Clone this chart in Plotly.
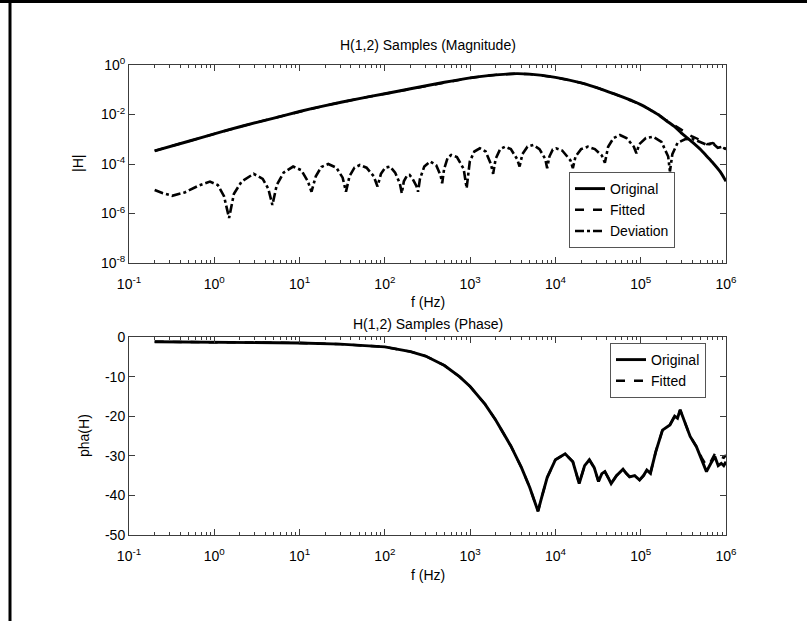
import plotly.graph_objects as go

# ---------------- data ----------------
freq_mag = [0.2, 0.5, 1, 2, 5, 10, 20, 50, 100, 200, 500, 1000, 2000, 3500, 5000,
            10000, 20000, 33000, 50000, 81000, 100000, 126000, 160000, 200000,
            250000, 300000, 400000, 510000, 600000, 700000, 850000, 1000000]
orig_mag = [3.4e-4, 8.3e-4, 1.66e-3, 3.2e-3, 7.2e-3, 1.32e-2, 2.3e-2, 4.4e-2, 6.9e-2,
            1.1e-1, 2.0e-1, 3.0e-1, 4.0e-1, 4.47e-1, 4.27e-1, 3.16e-1, 1.9e-1, 1.12e-1,
            6.6e-2, 3.5e-2, 2.5e-2, 1.62e-2, 1.0e-2, 5.6e-3, 3.2e-3, 1.78e-3, 7.9e-4,
            3.7e-4, 2.0e-4, 1.12e-4, 5.0e-5, 2.0e-5]
fit_mag = [3.4e-4, 8.3e-4, 1.66e-3, 3.2e-3, 7.2e-3, 1.32e-2, 2.3e-2, 4.4e-2, 6.9e-2,
           1.1e-1, 2.0e-1, 3.0e-1, 4.0e-1, 4.47e-1, 4.27e-1, 3.16e-1, 1.9e-1, 1.12e-1,
           6.6e-2, 3.5e-2, 2.5e-2, 1.62e-2, 1.0e-2, 5.8e-3, 3.5e-3, 2.3e-3, 1.3e-3,
           9.0e-4, 6.3e-4, 7.0e-4, 5.0e-4, 4.0e-4]

freq_dev = [0.2, 0.25, 0.32, 0.45, 0.65, 0.89, 1.1, 1.3, 1.49, 1.7, 2.1, 2.9, 3.7, 4.3,
            4.8, 5.4, 6.5, 8.4, 10.5, 12.5, 13.8, 15.5, 18, 21.7, 27, 32, 35, 38.5, 44,
            51, 61, 74, 82, 90, 101, 115, 132, 150, 158, 167, 182, 195, 212, 235, 245,
            258, 290, 340, 400, 450, 470, 495, 545, 600, 700, 840, 910, 990, 1120, 1300,
            1520, 1750, 1860, 1990, 2250, 2570, 3000, 3550, 3800, 4100, 4700, 5500, 6500,
            7600, 8000, 8500, 9300, 10200, 12000, 15000, 16000, 17200, 20000, 24000,
            29000, 35000, 38000, 41500, 48000, 57000, 68000, 83000, 89000, 96000,
            115000, 140000, 175000, 210000, 220000, 235000, 270000, 330000, 400000,
            500000, 600000, 700000, 800000, 900000, 1000000]
dev_mag = [8.9e-6, 6.6e-6, 5.2e-6, 7.1e-6, 1.32e-5, 1.95e-5, 1.41e-5, 5.0e-6, 6.6e-7,
           6.3e-6, 2.0e-5, 4.0e-5, 2.5e-5, 1.0e-5, 2.2e-6, 1.41e-5, 4.5e-5, 7.9e-5,
           5.6e-5, 2.0e-5, 7.6e-6, 3.2e-5, 7.6e-5, 1.0e-4, 7.1e-5, 2.8e-5, 7.6e-6,
           3.2e-5, 7.1e-5, 9.1e-5, 7.1e-5, 3.2e-5, 1.23e-5, 4.0e-5, 7.1e-5, 7.9e-5,
           4.5e-5, 1.6e-5, 6.6e-6, 2.0e-5, 3.4e-5, 3.6e-5, 2.5e-5, 1.26e-5, 7.6e-6,
           2.5e-5, 7.9e-5, 1.26e-4, 8.9e-5, 3.5e-5, 1.66e-5, 6.3e-5, 1.78e-4, 2.3e-4,
           1.9e-4, 6.3e-5, 1.05e-5, 1.26e-4, 3.2e-4, 4.3e-4, 3.2e-4, 1.0e-4, 4.0e-5,
           1.6e-4, 4.0e-4, 5.0e-4, 4.0e-4, 1.6e-4, 7.9e-5, 2.5e-4, 5.0e-4, 5.9e-4,
           4.0e-4, 1.6e-4, 6.8e-5, 2.0e-4, 3.8e-4, 4.3e-4, 3.5e-4, 1.41e-4, 6.8e-5,
           2.0e-4, 4.0e-4, 5.0e-4, 4.0e-4, 2.2e-4, 1.12e-4, 5.0e-4, 1.12e-3, 1.48e-3,
           1.12e-3, 5.0e-4, 2.7e-4, 6.3e-4, 1.12e-3, 1.26e-3, 7.9e-4, 2.0e-4, 5.0e-5,
           2.5e-4, 7.1e-4, 1.0e-3, 1.05e-3, 7.9e-4, 5.9e-4, 6.8e-4, 4.5e-4, 5.0e-4,
           4.0e-4]

freq_ph = [0.2, 0.5, 1, 3, 10, 30, 100, 200, 300, 500, 750, 1000, 1500, 2000, 3000,
           4000, 5000, 5800, 6250, 6800, 8000, 10000, 13000, 16000, 19000, 22000,
           25000, 28500, 32000, 35000, 38000, 41500, 45000, 52000, 62000, 68000, 74000,
           85000, 97000, 108000, 118000, 130000, 150000, 180000, 200000, 220000,
           250000, 270000, 290000, 330000, 380000, 450000, 520000, 590000, 660000,
           740000, 810000, 880000, 940000, 1000000]
orig_ph = [-1.2, -1.25, -1.3, -1.4, -1.5, -1.8, -2.5, -3.7, -4.8, -7.2, -10, -12.5,
           -17, -21, -27.5, -33, -38, -42, -44, -41, -35.5, -31, -29.5, -31.5, -37,
           -32.5, -31, -33, -36.5, -34.5, -34, -35.5, -37, -35, -33.4, -34.5, -35.3,
           -35, -36.1, -35, -33.6, -34.4, -29, -23.5, -22.8, -22.2, -20, -20.5, -18.4,
           -21.5, -25.1, -27.7, -31, -34, -32, -30.2, -32.5, -31.9, -32.5, -31.5]
fit_ph = [-1.2, -1.25, -1.3, -1.4, -1.5, -1.8, -2.5, -3.7, -4.8, -7.2, -10, -12.5,
          -17, -21, -27.5, -33, -38, -42, -44, -41, -35.5, -31, -29.5, -31.5, -37,
          -32.5, -31, -33, -36.5, -34.5, -34, -35.5, -37, -35, -33.4, -34.5, -35.3,
          -35, -36.1, -35, -33.6, -34.4, -29, -23.5, -22.8, -22.2, -20, -20.5, -18.4,
          -21.5, -25.1, -27.7, -30.5, -32.5, -31.5, -29.5, -30.5, -30.3, -30.5, -29.8]

x_tickvals = [1e-1, 1e0, 1e1, 1e2, 1e3, 1e4, 1e5, 1e6]
x_ticktext = ["10<sup>-1</sup>", "10<sup>0</sup>", "10<sup>1</sup>", "10<sup>2</sup>",
              "10<sup>3</sup>", "10<sup>4</sup>", "10<sup>5</sup>", "10<sup>6</sup>"]
x_minor = [m * 10 ** e for e in range(-1, 6) for m in range(2, 10)]
y1_tickvals = [1e-8, 1e-6, 1e-4, 1e-2, 1e0]
y1_ticktext = ["10<sup>-8</sup>", "10<sup>-6</sup>", "10<sup>-4</sup>", "10<sup>-2</sup>",
               "10<sup>0</sup>"]
y2_tickvals = [-50, -40, -30, -20, -10, 0]
y2_ticktext = ["-50", "-40", "-30", "-20", "-10", "0"]

# ---------------- figure ----------------
W, H = 807, 621
FONT = "Liberation Sans, Arial, Helvetica, sans-serif"
AX = "#3c3c3c"
LW = 2.9

fig = go.Figure()
fig.add_trace(go.Scatter(x=freq_mag, y=orig_mag, mode="lines", name="Original",
                         line=dict(color="black", width=LW, shape="spline",
                                   smoothing=0.6),
                         xaxis="x", yaxis="y", legend="legend"))
fig.add_trace(go.Scatter(x=freq_mag, y=fit_mag, mode="lines", name="Fitted",
                         line=dict(color="black", width=2.4, dash="dash"), xaxis="x",
                         yaxis="y", legend="legend"))
fig.add_trace(go.Scatter(x=freq_dev, y=dev_mag, mode="lines", name="Deviation",
                         line=dict(color="black", width=2.6, dash="dashdot"), xaxis="x",
                         yaxis="y", legend="legend"))
fig.add_trace(go.Scatter(x=freq_ph, y=orig_ph, mode="lines", name="Original",
                         line=dict(color="black", width=LW), xaxis="x2", yaxis="y2",
                         legend="legend2"))
fig.add_trace(go.Scatter(x=freq_ph, y=fit_ph, mode="lines", name="Fitted",
                         line=dict(color="black", width=2.4, dash="dash"), xaxis="x2",
                         yaxis="y2", legend="legend2"))

def px_x(p):
    return p / W

def px_y(p):
    return 1 - p / H

xdom = [px_x(129), px_x(726)]
common_x = dict(type="log", range=[-1, 6], domain=xdom, showline=True, mirror="ticks",
                linecolor=AX, linewidth=1, ticks="inside", ticklen=6, tickcolor=AX,
                tickmode="array", tickvals=x_tickvals, ticktext=x_ticktext,
                showgrid=False, zeroline=False, automargin=False,
                ticklabelstandoff=8,
                tickfont=dict(family=FONT, size=14, color="black"),
                minor=dict(ticks="inside", ticklen=3, tickcolor=AX, tickmode="array",
                           tickvals=x_minor, showgrid=False))

layout_legend = dict(font=dict(family=FONT, size=14, color="black"),
                     bgcolor="white", bordercolor="#555555", borderwidth=1,
                     xanchor="left", yanchor="top", tracegroupgap=0)

fig.update_layout(
    width=W, height=H, autosize=False,
    margin=dict(l=0, r=0, t=0, b=0, pad=0, autoexpand=False),
    paper_bgcolor="white", plot_bgcolor="white",
    font=dict(family=FONT, size=13, color="black"),
    xaxis=dict(common_x, anchor="y"),
    yaxis=dict(type="log", range=[-8, 0], domain=[px_y(263), px_y(65)], anchor="x",
               showline=True, mirror="ticks", linecolor=AX, linewidth=1,
               ticks="inside", ticklen=6, tickcolor=AX, tickmode="array",
               tickvals=y1_tickvals, ticktext=y1_ticktext, showgrid=False,
               zeroline=False, automargin=False,
               tickfont=dict(family=FONT, size=14, color="black")),
    xaxis2=dict(common_x, anchor="y2"),
    yaxis2=dict(range=[-50, 0], domain=[px_y(535), px_y(337)], anchor="x2",
                showline=True, mirror="ticks", linecolor=AX, linewidth=1,
                ticks="inside", ticklen=6, tickcolor=AX, tickmode="array",
                tickvals=y2_tickvals, ticktext=y2_ticktext, showgrid=False,
                zeroline=False, automargin=False,
                tickfont=dict(family=FONT, size=14, color="black")),
    legend=dict(layout_legend, x=px_x(569), y=px_y(172)),
    legend2=dict(layout_legend, x=px_x(610), y=px_y(343)),
    showlegend=True,
)

ann = [
    ("H(1,2) Samples (Magnitude)", 427.5, 45, 0, 14),
    ("H(1,2) Samples (Phase)", 427.5, 324, 0, 14),
    ("f (Hz)", 427.5, 302, 0, 14),
    ("f (Hz)", 427.5, 575, 0, 14),
    ("|H|", 78, 164, -90, 14),
    ("pha(H)", 84, 436, -90, 14),
]
for text, xx, yy, ang, fs in ann:
    fig.add_annotation(text=text, x=px_x(xx), y=px_y(yy), xref="paper", yref="paper",
                       showarrow=False, textangle=ang, xanchor="center",
                       yanchor="middle", font=dict(family=FONT, size=fs, color="black"))

# figure frame (top and left edges)
fig.add_shape(type="line", xref="paper", yref="paper", x0=0, x1=1, y0=px_y(1.5),
              y1=px_y(1.5), line=dict(color="black", width=3))
fig.add_shape(type="line", xref="paper", yref="paper", x0=px_x(10), x1=px_x(10), y0=0,
              y1=1, line=dict(color="black", width=3))

fig.write_html("out.html")
